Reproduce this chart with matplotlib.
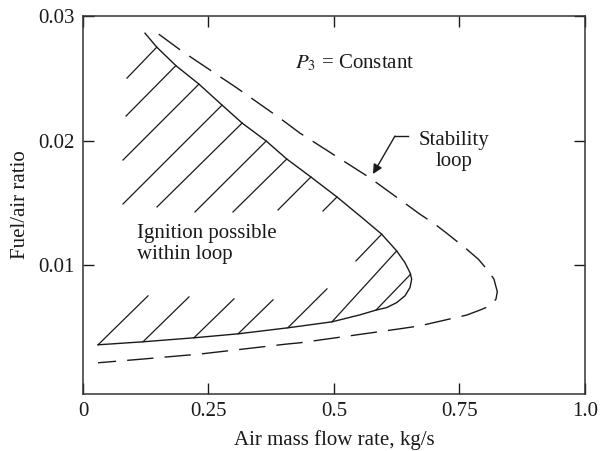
import matplotlib.pyplot as plt

plt.rcParams['font.family'] = ['Liberation Serif', 'DejaVu Serif']
plt.rcParams['mathtext.fontset'] = 'stix'

# ignition loop (solid), traced from upper-left round the nose to lower-left
ign_x = [0.1235, 0.147, 0.185, 0.231, 0.277, 0.317, 0.365, 0.406, 0.454, 0.506,
         0.5518, 0.595, 0.6249, 0.6414, 0.6514, 0.6548, 0.6514, 0.6414, 0.6249,
         0.605, 0.5837, 0.5518, 0.496, 0.408, 0.309, 0.221, 0.1195, 0.030]
ign_y = [0.0286, 0.02748, 0.0260, 0.02452, 0.02284, 0.0214, 0.01996, 0.01852,
         0.01708, 0.01548, 0.01396, 0.0125, 0.01116, 0.01022, 0.00942, 0.0089,
         0.00822, 0.00756, 0.00702, 0.00662, 0.00642, 0.00604, 0.00548, 0.0050,
         0.00452, 0.0042, 0.00388, 0.00364]

# stability loop (dashed)
stab_x = [0.151, 0.197, 0.307, 0.392, 0.432, 0.572, 0.6713, 0.7012, 0.7245,
          0.7643, 0.7875, 0.8074, 0.8187, 0.8253, 0.8227, 0.8108, 0.7908,
          0.7643, 0.7145, 0.6713, 0.631, 0.432, 0.406, 0.233, 0.1195, 0.030]
stab_y = [0.02852, 0.02716, 0.0242, 0.0218, 0.0206, 0.0170, 0.0141, 0.0133,
          0.01258, 0.0113, 0.0105, 0.00956, 0.0089, 0.0079, 0.0073, 0.00676,
          0.00642, 0.00602, 0.00556, 0.00516, 0.00492, 0.0038, 0.0037, 0.0029,
          0.0025, 0.0022]

# hatch strokes inside the ignition loop: (x0, y0) -> (x1, y1)
hatch_x0 = [0.0876, 0.0857, 0.0797, 0.0797, 0.1474, 0.2231, 0.2988, 0.3884,
            0.4781, 0.5438, 0.496, 0.5837, 0.030, 0.1195, 0.221, 0.309, 0.408]
hatch_y0 = [0.0250, 0.02196, 0.01844, 0.01492, 0.01468, 0.01428, 0.01428,
            0.01444, 0.01436, 0.01036, 0.00548, 0.00642, 0.00364, 0.00388,
            0.0042, 0.00452, 0.0050]
hatch_x1 = [0.147, 0.185, 0.231, 0.277, 0.317, 0.365, 0.406, 0.454, 0.506,
            0.595, 0.6249, 0.6528, 0.1295, 0.2112, 0.3008, 0.3785, 0.486]
hatch_y1 = [0.02748, 0.0260, 0.02452, 0.02284, 0.0214, 0.01996, 0.01852,
            0.01708, 0.01548, 0.0125, 0.01116, 0.0093, 0.00756, 0.00748,
            0.00732, 0.00724, 0.00812]

x_ticks = [0, 0.25, 0.5, 0.75, 1.0]
x_tick_labels = ['0', '0.25', '0.5', '0.75', '1.0']
y_ticks = [0.01, 0.02, 0.03]
y_tick_labels = ['0.01', '0.02', '0.03']

ink = '#1a1a1a'
fs = 15

fig = plt.figure(figsize=(6.04, 4.51), dpi=100)
ax = fig.add_axes([0.1374, 0.1264, 0.8311, 0.8388])

ax.plot(ign_x, ign_y, color=ink, linewidth=1.0)
ax.plot(stab_x, stab_y, color=ink, linewidth=1.0, dashes=(19, 8))
for x0, y0, x1, y1 in zip(hatch_x0, hatch_y0, hatch_x1, hatch_y1):
    ax.plot([x0, x1], [y0, y1], color=ink, linewidth=0.9)

# labels inside the plot
ax.text(0.423, 0.0262, r'$P_3$ = Constant', fontsize=fs, ha='left',
        va='center', color=ink)
ax.text(0.1076, 0.01172, 'Ignition possible\nwithin loop', fontsize=fs,
        ha='left', va='center', linespacing=1.2, color=ink)
ax.text(0.739, 0.01916, 'Stability\nloop', fontsize=fs, ha='center',
        va='center', linespacing=1.2, color=ink)
ax.plot([0.6215, 0.6474], [0.02036, 0.02036], color=ink, linewidth=1.0)
ax.annotate('', xy=(0.5777, 0.01732), xytext=(0.6215, 0.02036),
            arrowprops=dict(arrowstyle='-|>', color=ink, lw=1.0,
                            mutation_scale=14, shrinkA=0, shrinkB=0))

ax.set_xlim(0, 1.0)
ax.set_ylim(-0.0003, 0.03)
ax.set_xticks(x_ticks)
ax.set_xticklabels(x_tick_labels)
ax.set_yticks(y_ticks)
ax.set_yticklabels(y_tick_labels)
ax.tick_params(direction='in', top=True, right=True, length=8, width=1.0,
               pad=6, labelsize=fs, colors=ink)
for sp in ax.spines.values():
    sp.set_linewidth(1.1)
    sp.set_color('#333333')

ax.set_xlabel('Air mass flow rate, kg/s', fontsize=fs, color=ink, labelpad=6)
ax.set_ylabel('Fuel/air ratio', fontsize=fs, color=ink, labelpad=6)

fig.savefig('out.png', dpi=100)
